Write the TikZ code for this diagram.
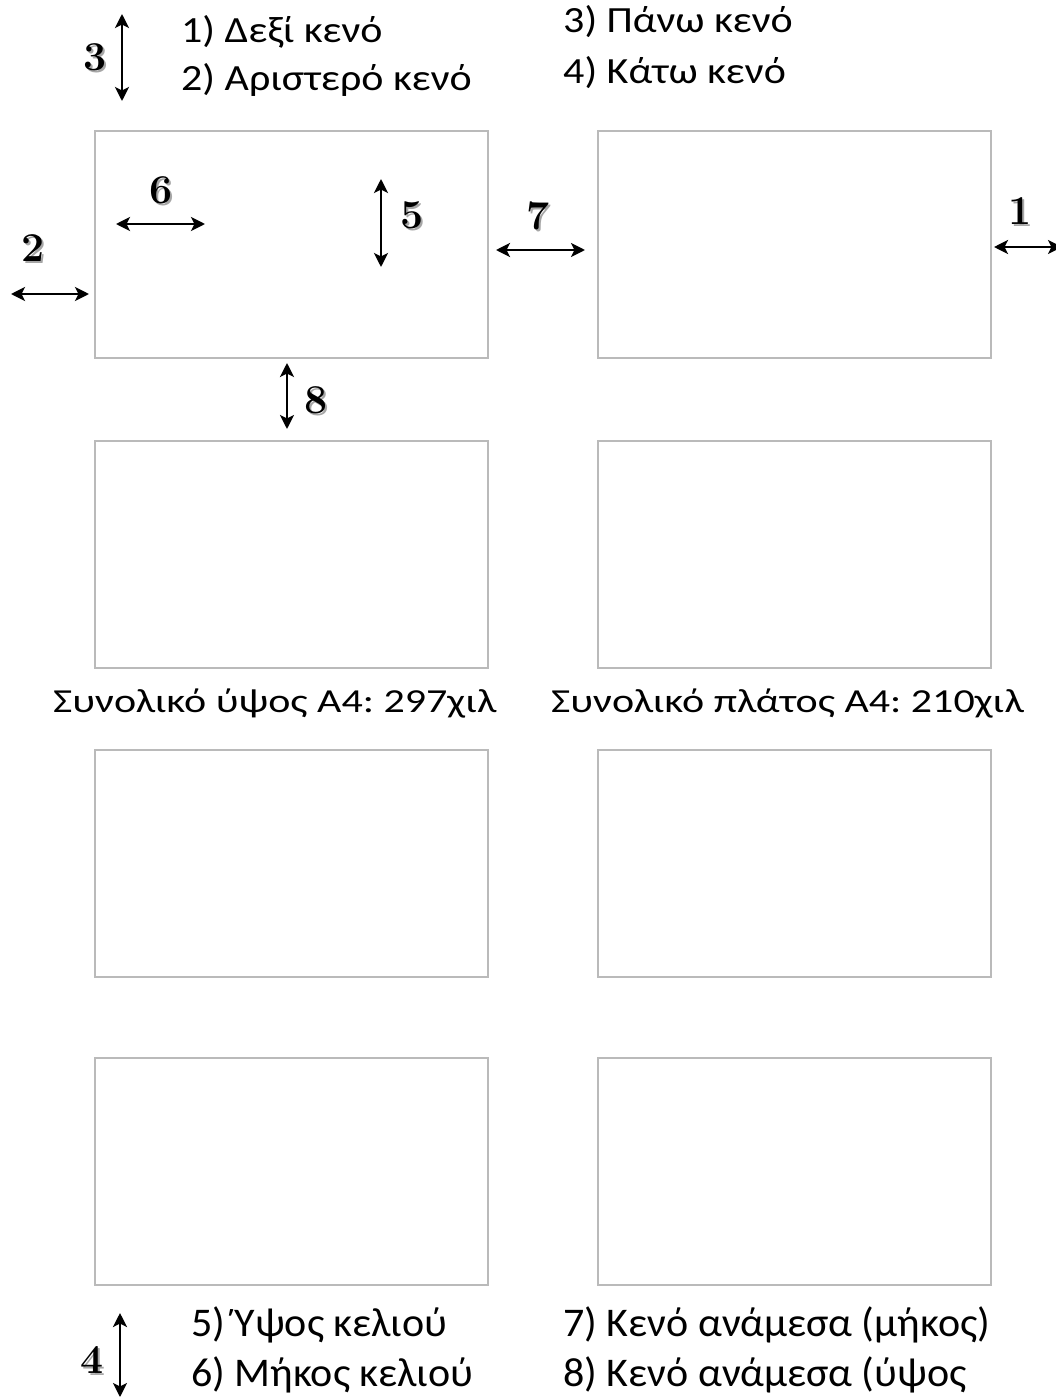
\documentclass[tikz,border=0pt]{standalone}
\usepackage{fontspec}
\setmainfont{Carlito}
\newfontfamily\numfont{Latin Modern Roman}
\usetikzlibrary{arrows.meta}
\frenchspacing
\tikzset{
  cell/.style={draw=black!27, line width=1.2pt, fill=white},
  dimarrow/.style={line width=2.6pt, {Stealth[length=14pt,width=14pt,inset=3.5pt]}-{Stealth[length=14pt,width=14pt,inset=3.5pt]}},
  lbl/.style={anchor=west, inner sep=0pt, font=\fontsize{42}{48}\selectfont},
  num/.style={inner sep=0pt, font=\numfont\bfseries\fontsize{41}{43}\selectfont},
  numshadow/.style={num, text=black!35, xshift=1.8pt, yshift=-1.8pt},
}
\newcommand{\numlbl}[4]{%
  \node[numshadow] at (#2,#3) {#4};
  \node[num] (#1) at (#2,#3) {#4};}
\newcommand{\sq}[2]{\scalebox{1}[#1]{#2}}
\begin{document}
\begin{tikzpicture}[x=1pt,y=-1pt]
\useasboundingbox[fill=white] (0,0) rectangle (1055,1397);
% cells
\foreach \r/\y in {1/131,2/441,3/750,4/1058}{
  \draw[cell] (95,\y) rectangle (488,\y+227);
  \draw[cell] (598,\y) rectangle (991,\y+227);
}
% legend texts
\node[lbl] (t1) at (181,32) {\sq{0.88}{1) Δεξί κενό}};
\node[lbl] (t2) at (181,80) {\sq{0.88}{2) Αριστερό κενό}};
\node[lbl] (t3) at (563,22) {\sq{0.88}{3) Πάνω κενό}};
\node[lbl] (t4) at (563,73) {\sq{0.88}{4) Κάτω κενό}};
\node[lbl] (m1) at (53,703) {\sq{0.8}{Συνολικό ύψος A4: 297χιλ}};
\node[lbl] (m2) at (551,703) {\sq{0.8}{Συνολικό πλάτος A4: 210χιλ}};
\node[lbl] (b5) at (191,1325) {\sq{0.97}{5) Ύψος κελιού}};
\node[lbl] (b6) at (191,1375) {\sq{0.97}{6) Μήκος κελιού}};
\node[lbl] (b7) at (563,1325) {\sq{0.97}{7) Κενό ανάμεσα (μήκος)}};
\node[lbl] (b8) at (563,1375) {\sq{0.97}{8) Κενό ανάμεσα (ύψος}};
% arrow end points
\coordinate (a3s) at (122,14); \coordinate (a3e) at (122,101);
\coordinate (a2s) at (11,294); \coordinate (a2e) at (89,294);
\coordinate (a6s) at (116,224); \coordinate (a6e) at (205,224);
\coordinate (a5s) at (381,179); \coordinate (a5e) at (381,267);
\coordinate (a7s) at (496,250); \coordinate (a7e) at (585,250);
\coordinate (a1s) at (994,247); \coordinate (a1e) at (1062,247);
\coordinate (a8s) at (287,363); \coordinate (a8e) at (287,429);
\coordinate (a4s) at (120,1313); \coordinate (a4e) at (120,1397);
\foreach \a in {3,2,6,5,7,1,8,4}{ \draw[dimarrow] (a\a s) -- (a\a e); }
% number labels
\numlbl{n3}{95}{57}{3}
\numlbl{n2}{33}{248}{2}
\numlbl{n6}{161}{190}{6}
\numlbl{n5}{412}{215}{5}
\numlbl{n7}{538}{216}{7}
\numlbl{n1}{1020}{211}{1}
\numlbl{n8}{316}{400}{8}
\numlbl{n4}{92}{1360}{4}
\end{tikzpicture}
\end{document}
